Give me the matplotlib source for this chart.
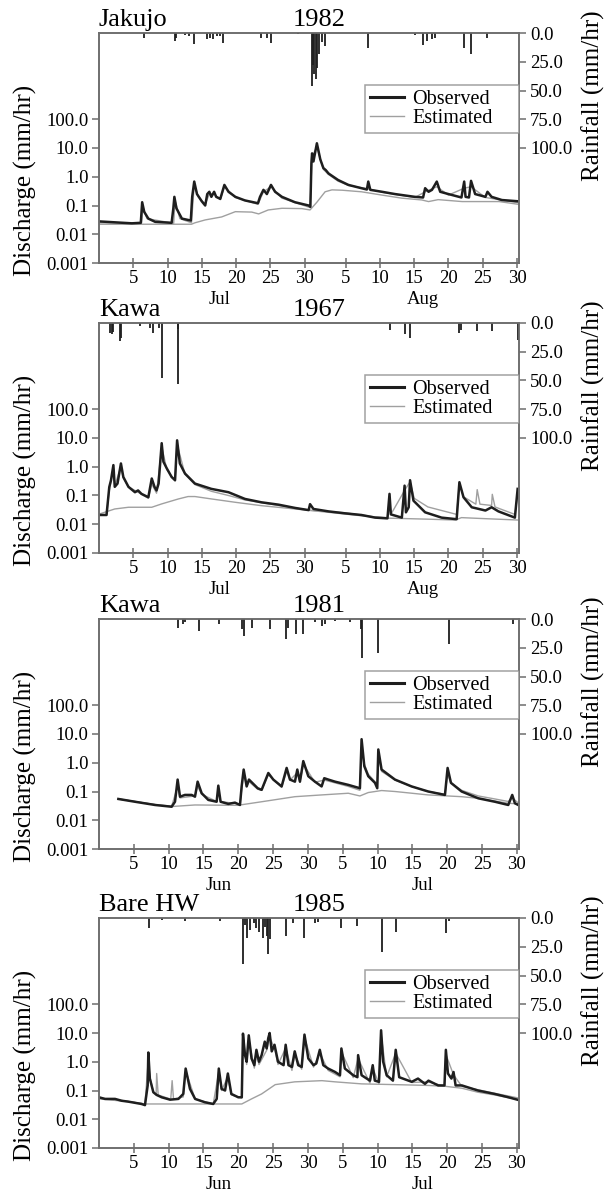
import numpy as np
import matplotlib
matplotlib.use('Agg')
import matplotlib.pyplot as plt
from matplotlib.lines import Line2D

plt.rcParams['font.family'] = ['Liberation Serif', 'DejaVu Serif']

# ---- Jakujo 1982 (Jul-Aug), day 1 = Jul 1 ----
jak_obs_t = [0, 2.3, 4.8, 6.1, 6.3, 6.6, 7.2, 8.2, 10.6, 10.85, 11.0, 11.3, 12.1, 13.4, 13.6, 13.9, 14.3, 15.0, 15.5, 15.8,
             16.1, 16.4, 16.8, 17.1, 17.7, 18.3, 18.9, 19.9, 21.3, 23.2, 23.5, 24.0, 24.5, 25.1, 25.7, 26.7, 28.6, 30.6, 30.85, 31.0,
             31.1, 31.3, 31.8, 32.3, 32.75, 33.1, 33.5, 34.9, 36.4, 38.3, 39.1, 39.3, 39.6, 41.3, 43.2, 46.1, 47.3, 47.6, 48.1, 48.6,
             49.3, 49.8, 51.0, 52.9, 53.3, 53.5, 54.0, 54.3, 54.9, 56.4, 56.7, 57.3, 58.8, 61.2]
jak_obs_q = [0.028, 0.026, 0.024, 0.025, 0.13, 0.06, 0.035, 0.027, 0.025, 0.08, 0.20, 0.08, 0.035, 0.03, 0.2, 0.68, 0.25, 0.14, 0.10, 0.25,
             0.3, 0.2, 0.3, 0.2, 0.17, 0.52, 0.3, 0.2, 0.15, 0.12, 0.2, 0.35, 0.25, 0.52, 0.3, 0.2, 0.13, 0.1, 0.09, 3.0,
             6.5, 3.4, 14.6, 4.0, 2.0, 1.7, 1.3, 0.77, 0.52, 0.40, 0.36, 0.68, 0.35, 0.30, 0.25, 0.20, 0.19, 0.40, 0.30, 0.35,
             0.68, 0.30, 0.25, 0.19, 0.68, 0.2, 0.19, 0.72, 0.25, 0.2, 0.3, 0.2, 0.155, 0.14]
jak_est_t = [0, 6.2, 6.4, 7.0, 10.9, 11.1, 11.8, 13.5, 13.9, 14.5, 15.5, 16.1, 16.8, 17.7, 18.3, 19.9, 23.2, 24.0, 25.1, 26.7,
             30.8, 31.1, 31.8, 32.75, 33.5, 34.9, 36.4, 39.3, 41.3, 46.1, 47.6, 49.3, 51.0, 53.3, 54.3, 56.4, 61.2]
jak_est_q = [0.025, 0.024, 0.09, 0.035, 0.024, 0.15, 0.035, 0.025, 0.55, 0.2, 0.11, 0.25, 0.25, 0.16, 0.45, 0.19, 0.11, 0.3, 0.45, 0.18,
             0.085, 5.0, 11, 1.8, 1.2, 0.7, 0.5, 0.38, 0.29, 0.19, 0.3, 0.45, 0.23, 0.4, 0.45, 0.19, 0.125]
jak_base_t = [0, 13.5, 14.0, 15.5, 17.9, 19.9, 22.3, 23.3, 24.7, 26.7, 29.6, 30.8, 31.8, 33.0, 34.0, 35.5, 38.3, 41.3, 44.2, 47.1,
              48.1, 49.5, 53.0, 58.4, 61.2]
jak_base_q = [0.0223, 0.0223, 0.025, 0.0315, 0.040, 0.061, 0.059, 0.051, 0.070, 0.080, 0.078, 0.07, 0.13, 0.30, 0.35, 0.34, 0.30, 0.23, 0.18, 0.156,
              0.137, 0.16, 0.137, 0.137, 0.11]
jak_rain_t = [6.5, 11.1, 11.3, 12.6, 13.1, 13.9, 15.7, 16.2, 16.7, 17.2, 17.7, 18.05, 23.7, 24.5, 25.1, 29.1, 31.05, 31.25, 31.4, 31.6,
              31.8, 32.1, 32.6, 33.0, 39.3, 46.1, 47.3, 47.8, 48.6, 49.1, 53.2, 54.3, 56.6]
jak_rain_mm = [4, 7, 4, 2, 3, 9.5, 5, 4, 5, 3, 3, 8.7, 4, 4, 8.7, 1, 46, 28, 36, 40,
               30, 18, 8, 11.5, 13, 2, 10, 7, 5, 4, 13, 18, 4]

# ---- Kawa 1967 (Jul-Aug) ----
k67_obs_t = [0, 1.1, 1.5, 1.75, 2.1, 2.3, 2.7, 3.2, 3.55, 4.3, 5.25, 5.7, 6.2, 7.2, 7.7, 8.1, 8.4, 8.7, 9.15, 9.4,
             9.9, 10.6, 11.1, 11.4, 11.8, 12.55, 14.0, 16.4, 18.9, 21.3, 23.7, 26.2, 28.6, 30.6, 30.8, 31.3, 33.5, 35.9, 38.3, 40.3,
             42.1, 42.4, 42.6, 44.2, 44.6, 44.8, 45.2, 45.4, 45.9, 47.6, 50.0, 52.2, 52.6, 53.2, 54.4, 56.4, 57.3, 58.3, 60.7, 61.1]
k67_obs_q = [0.021, 0.021, 0.197, 0.34, 1.14, 0.2, 0.26, 1.3, 0.44, 0.2, 0.13, 0.15, 0.114, 0.087, 0.39, 0.2, 0.15, 0.26, 6.6, 1.5,
             0.87, 0.44, 0.34, 8.3, 1.3, 0.58, 0.26, 0.17, 0.13, 0.076, 0.058, 0.048, 0.037, 0.031, 0.05, 0.034, 0.028, 0.024, 0.021, 0.017,
             0.016, 0.114, 0.022, 0.017, 0.22, 0.026, 0.039, 0.34, 0.066, 0.026, 0.017, 0.015, 0.29, 0.087, 0.039, 0.030, 0.039, 0.028, 0.017, 0.17]
k67_est_t = [0, 1.1, 1.5, 2.1, 2.3, 3.2, 3.55, 4.3, 5.7, 7.2, 7.7, 8.4, 9.15, 9.9, 11.1, 11.4, 12.55, 14.0, 16.4, 18.9,
             21.3, 26.2, 30.6, 35.9, 40.3, 42.1, 42.4, 42.6, 44.6, 45.4, 46.0, 48.0, 52.2, 52.6, 53.2, 55.0, 55.2, 55.6, 57.3, 57.4,
             57.8, 60.7, 61.1]
k67_est_q = [0.021, 0.021, 0.15, 0.9, 0.22, 1.0, 0.4, 0.2, 0.13, 0.08, 0.25, 0.12, 5.0, 0.8, 0.32, 6.0, 0.55, 0.24, 0.14, 0.1,
             0.07, 0.045, 0.031, 0.025, 0.018, 0.017, 0.08, 0.022, 0.15, 0.3, 0.08, 0.04, 0.022, 0.25, 0.09, 0.05, 0.16, 0.05, 0.045, 0.11,
             0.04, 0.022, 0.1]
k67_base_t = [0, 2.3, 4.3, 7.7, 9.15, 11.6, 13.0, 14.0, 16.4, 19.9, 23.7, 28.6, 33.5, 38.3, 42.2, 48.1, 52.0, 52.9, 55.4, 61.2]
k67_base_q = [0.0225, 0.034, 0.039, 0.039, 0.051, 0.076, 0.092, 0.092, 0.076, 0.058, 0.0443, 0.034, 0.026, 0.0197, 0.0163, 0.015, 0.014, 0.017, 0.016, 0.014]
k67_rain_t = [1.6, 1.85, 2.1, 3.1, 3.2, 6.0, 7.4, 7.9, 8.7, 9.15, 11.5, 11.6, 42.5, 44.7, 45.4, 52.5, 52.9, 55.1, 57.3, 61.2]
k67_rain_mm = [8.8, 10, 7.4, 15.6, 13, 3, 4.4, 8.8, 4.4, 48, 53, 5, 6, 10, 13, 9, 6, 7, 7, 15]

# ---- Kawa 1981 (Jun-Jul), day 1 = Jun 1 ----
k81_obs_t = [2.78, 5.17, 8.04, 10.43, 10.91, 11.29, 11.63, 12.34, 13.30, 13.78, 14.16, 14.74, 15.69, 16.89, 17.13, 17.46, 18.56, 19.52, 20.24, 20.48,
             20.77, 21.20, 21.53, 22.78, 23.35, 24.31, 25.02, 26.22, 26.94, 27.42, 28.13, 28.47, 28.85, 29.33, 30.05, 31.0, 31.96, 32.34, 32.92, 33.88,
             35.79, 37.46, 37.70, 38.09, 38.66, 39.62, 39.95, 40.10, 40.57, 42.49, 44.88, 47.27, 49.67, 50.05, 50.53, 52.06, 54.45, 56.84, 58.76, 59.33,
             59.71, 60.19]
k81_obs_q = [0.055, 0.044, 0.034, 0.0295, 0.044, 0.26, 0.066, 0.076, 0.076, 0.066, 0.22, 0.087, 0.051, 0.044, 0.16, 0.044, 0.037, 0.041, 0.034, 0.15,
             0.58, 0.15, 0.26, 0.13, 0.114, 0.44, 0.26, 0.15, 0.66, 0.26, 0.22, 0.58, 0.22, 1.14, 0.34, 0.22, 0.15, 0.29, 0.26, 0.22,
             0.17, 0.13, 6.6, 0.76, 0.34, 0.2, 0.13, 2.9, 0.58, 0.26, 0.15, 0.1, 0.076, 0.66, 0.2, 0.1, 0.058, 0.044, 0.034, 0.076,
             0.039, 0.034]
k81_est_t = [2.78, 8.04, 10.43, 11.29, 11.63, 13.78, 14.16, 14.74, 16.89, 17.13, 17.46, 20.24, 20.77, 21.20, 21.53, 22.78, 23.35, 24.31, 26.22, 26.94,
             27.42, 28.47, 28.85, 29.33, 31.0, 32.34, 33.88, 35.79, 37.46, 37.70, 38.09, 38.66, 39.62, 39.95, 40.10, 40.57, 42.49, 44.88, 47.27, 49.67,
             50.05, 50.53, 52.06, 54.45, 56.84, 58.76, 59.33, 60.19]
k81_est_q = [0.055, 0.035, 0.031, 0.15, 0.06, 0.07, 0.15, 0.08, 0.045, 0.1, 0.045, 0.036, 0.45, 0.15, 0.22, 0.12, 0.11, 0.38, 0.14, 0.5,
             0.25, 0.45, 0.21, 0.9, 0.21, 0.25, 0.2, 0.15, 0.11, 3.5, 0.9, 0.4, 0.22, 0.15, 1.8, 0.5, 0.25, 0.15, 0.1, 0.08,
             0.4, 0.2, 0.11, 0.07, 0.055, 0.045, 0.06, 0.04]
k81_base_t = [2.78, 8.04, 10.43, 13.78, 19.9, 23.35, 28.13, 31.96, 35.79, 37.46, 38.66, 40.57, 42.49, 47.27, 52.06, 54.45, 58.76, 60.19]
k81_base_q = [0.055, 0.035, 0.030, 0.034, 0.033, 0.044, 0.066, 0.076, 0.087, 0.07, 0.092, 0.108, 0.1, 0.076, 0.066, 0.058, 0.039, 0.037]
k81_rain_t = [11.4, 12.0, 12.3, 14.4, 17.3, 20.5, 20.8, 21.9, 24.5, 26.9, 27.2, 28.3, 29.3, 31.0, 32.0, 32.5, 33.9, 36.0, 37.6, 37.7,
              40.1, 50.3, 59.5]
k81_rain_mm = [7.4, 4.4, 3, 10, 4.4, 9, 14.7, 7.4, 9, 17.6, 7.4, 13, 13, 3, 6, 4.4, 2, 3, 9, 33.8,
               29.4, 22, 4.4]

# ---- Bare HW 1985 (Jun-Jul) ----
bhw_obs_t = [0, 0.86, 2.3, 3.25, 4.2, 6.1, 6.6, 6.99, 7.08, 7.3, 7.8, 8.28, 9.0, 10.2, 11.4, 12.1, 12.44, 13.06, 13.8, 15.2,
             16.4, 16.9, 17.2, 17.6, 18.1, 18.5, 19.0, 20.0, 20.5, 20.67, 20.96, 21.2, 21.5, 21.9, 22.3, 22.6, 22.97, 23.35, 23.8, 24.07,
             24.3, 24.5, 24.8, 25.2, 25.7, 26.5, 26.8, 27.2, 27.7, 28.1, 28.6, 29.1, 29.5, 30.05, 30.8, 31.2, 31.7, 32.2, 32.9, 33.9,
             34.6, 34.8, 35.3, 36.5, 37.1, 37.2, 37.7, 38.9, 39.3, 39.6, 40.2, 40.5, 40.8, 41.3, 42.2, 42.6, 43.1, 44.9, 45.8, 46.8,
             47.3, 48.7, 49.6, 49.8, 50.1, 50.6, 50.9, 51.2, 52.1, 54.4, 56.8, 58.8, 60.2]
bhw_obs_q = [0.058, 0.051, 0.051, 0.044, 0.041, 0.034, 0.031, 0.15, 2.1, 0.26, 0.087, 0.07, 0.058, 0.048, 0.051, 0.076, 0.58, 0.114, 0.051, 0.039,
             0.034, 0.051, 0.58, 0.114, 0.1, 0.39, 0.076, 0.058, 0.058, 9.5, 1.7, 1.0, 8.3, 1.3, 0.76, 2.6, 1.0, 1.7, 5.0, 2.9,
             6.6, 10, 2.3, 3.9, 1.0, 0.76, 3.9, 0.76, 0.66, 2.3, 0.76, 0.66, 8.8, 1.3, 0.76, 0.87, 2.6, 0.76, 0.58, 0.44,
             0.34, 2.9, 0.58, 0.34, 0.29, 1.7, 0.34, 0.22, 0.76, 0.22, 0.2, 12.4, 1.0, 0.34, 0.22, 2.6, 0.29, 0.2, 0.26, 0.17,
             0.22, 0.15, 0.15, 2.6, 0.39, 0.26, 0.44, 0.15, 0.15, 0.1, 0.076, 0.058, 0.047]
bhw_est_t = [0, 3.25, 6.6, 7.08, 7.3, 7.8, 8.2, 8.28, 8.5, 10.3, 10.5, 10.7, 12.1, 12.44, 13.8, 16.4, 17.2, 17.6, 18.5, 19.0,
             20.5, 20.67, 21.2, 21.5, 22.3, 22.6, 22.97, 24.07, 24.5, 25.2, 25.7, 26.8, 27.7, 28.1, 29.1, 29.5, 30.8, 31.7, 32.9, 34.6,
             34.8, 36.5, 37.2, 38.9, 39.3, 40.2, 40.5, 41.3, 42.6, 44.9, 47.3, 49.6, 49.8, 50.9, 52.1, 56.8, 60.2]
bhw_est_q = [0.055, 0.045, 0.034, 1.2, 0.3, 0.09, 0.07, 0.39, 0.07, 0.05, 0.22, 0.05, 0.06, 0.5, 0.05, 0.034, 0.45, 0.1, 0.3, 0.07,
             0.055, 7, 0.8, 6, 0.6, 2, 0.8, 2.5, 7, 3, 0.8, 3, 0.5, 1.8, 0.55, 7, 0.65, 2, 0.5, 0.3,
             2.2, 0.28, 1.3, 0.18, 0.6, 0.17, 9, 0.3, 2, 0.19, 0.2, 0.14, 1.8, 0.35, 0.14, 0.08, 0.055]
bhw_base_t = [0, 4.2, 6.6, 20.5, 21.9, 23.35, 25.3, 28.1, 32.0, 33.9, 37.7, 42.5, 47.3, 49.7, 52.1, 54.4, 56.8, 60.2]
bhw_base_q = [0.051, 0.041, 0.034, 0.034, 0.051, 0.076, 0.16, 0.2, 0.22, 0.2, 0.17, 0.16, 0.15, 0.14, 0.12, 0.087, 0.07, 0.048]
bhw_rain_t = [7.2, 9.0, 12.3, 17.4, 20.7, 20.9, 21.3, 21.7, 22.2, 22.6, 22.9, 23.6, 23.8, 24.1, 24.3, 24.5, 26.8, 27.9, 29.5, 31.0,
              31.5, 34.8, 37.1, 40.6, 42.6, 49.8, 50.2]
bhw_rain_mm = [9, 2, 3, 3, 40, 6, 17.6, 10, 4.4, 9, 12, 17.6, 8, 16, 31, 18, 16, 4, 17.6, 4,
               3.5, 9, 7, 29.4, 12, 13, 3]

# tick positions / labels
ja_ticks = [5, 10, 15, 20, 25, 30, 36, 41, 46, 51, 56, 61]
jj_ticks = [5, 10, 15, 20, 25, 30, 35, 40, 45, 50, 55, 60]
day_labels = ['5', '10', '15', '20', '25', '30'] * 2
q_ticks = [0.001, 0.01, 0.1, 1, 10, 100]
q_labels = ['0.001', '0.01', '0.1', '1.0', '10.0', '100.0']
r_ticks = [0, 25, 50, 75, 100]
r_labels = ['0.0', '25.0', '50.0', '75.0', '100.0']

panels = [
    ('Jakujo', '1982', ('Jul', 'Aug'), ja_ticks, 61.3,
     (jak_obs_t, jak_obs_q), (jak_est_t, jak_est_q), (jak_base_t, jak_base_q), (jak_rain_t, jak_rain_mm)),
    ('Kawa', '1967', ('Jul', 'Aug'), ja_ticks, 61.3,
     (k67_obs_t, k67_obs_q), (k67_est_t, k67_est_q), (k67_base_t, k67_base_q), (k67_rain_t, k67_rain_mm)),
    ('Kawa', '1981', ('Jun', 'Jul'), jj_ticks, 60.3,
     (k81_obs_t, k81_obs_q), (k81_est_t, k81_est_q), (k81_base_t, k81_base_q), (k81_rain_t, k81_rain_mm)),
    ('Bare HW', '1985', ('Jun', 'Jul'), jj_ticks, 60.3,
     (bhw_obs_t, bhw_obs_q), (bhw_est_t, bhw_est_q), (bhw_base_t, bhw_base_q), (bhw_rain_t, bhw_rain_mm)),
]

W, H = 607, 1198
tops = [33, 323, 619, 918]
spine_c = '#6e6e6e'
obs_c = '#1e1e1e'
est_c = '#a0a0a0'

fig = plt.figure(figsize=(W / 100, H / 100), dpi=100)

for (site, year, months, ticks, xmax, obs, est, base, rain), top in zip(panels, tops):
    ax = fig.add_axes([99 / W, 1 - (top + 230) / H, 420 / W, 230 / H])
    ax.plot(base[0], base[1], color=est_c, lw=1.0)
    ax.plot(est[0], est[1], color=est_c, lw=1.0)
    ax.plot(obs[0], obs[1], color=obs_c, lw=1.8)
    ax.set_yscale('log')
    ax.set_ylim(1e-3, 1e5)
    ax.set_xlim(0, xmax)
    ax.set_yticks(q_ticks)
    ax.set_yticklabels(q_labels)
    ax.yaxis.set_minor_locator(matplotlib.ticker.NullLocator())
    ax.set_xticks(ticks)
    ax.set_xticklabels(day_labels)
    ax.tick_params(axis='y', direction='out', length=5, width=1.1, color=spine_c, labelsize=13.5, pad=2.5)
    ax.tick_params(axis='x', direction='inout', length=7, width=1.1, color=spine_c, labelsize=13.5, pad=1.5)

    ax2 = ax.twinx()
    ax2.vlines(rain[0], 0, rain[1], color=obs_c, lw=1.3)
    ax2.set_ylim(200, 0)
    ax2.set_xlim(0, xmax)
    ax2.set_yticks(r_ticks)
    ax2.set_yticklabels(r_labels)
    ax2.tick_params(direction='out', length=5, width=1.1, color=spine_c, labelsize=13.5, pad=3)

    for a in (ax, ax2):
        for s in a.spines.values():
            s.set_color(spine_c)
            s.set_linewidth(1.2)

    ax.text(0.0, 1.03, site, transform=ax.transAxes, fontsize=19, ha='left', va='baseline')
    ax.text(0.525, 1.03, year, transform=ax.transAxes, fontsize=19, ha='center', va='baseline')
    ax.text(0.286, -0.16, months[0], transform=ax.transAxes, fontsize=13.5, ha='center', va='center')
    ax.text(0.77, -0.16, months[1], transform=ax.transAxes, fontsize=13.5, ha='center', va='center')
    ax.text(-0.176, 0.36, 'Discharge (mm/hr)', transform=ax.transAxes, fontsize=18,
            rotation=90, ha='center', va='center')
    ax.text(1.176, 0.726, 'Rainfall (mm/hr)', transform=ax.transAxes, fontsize=18,
            rotation=90, ha='center', va='center')

    handles = [Line2D([], [], color=obs_c, lw=2.2), Line2D([], [], color=est_c, lw=1.0)]
    leg = ax2.legend(handles, ['Observed', 'Estimated'], loc='upper left',
                     bbox_to_anchor=(0.633, 0.774 - 0.2, 0.367, 0.2), mode='expand',
                     borderaxespad=0, fontsize=14.5, frameon=True, fancybox=False, labelspacing=0.0,
                     handlelength=1.7, handletextpad=0.4, borderpad=0.25)
    leg.get_frame().set_edgecolor('#8a8a8a')
    leg.get_frame().set_linewidth(1.1)

fig.savefig('out.png', dpi=100)
